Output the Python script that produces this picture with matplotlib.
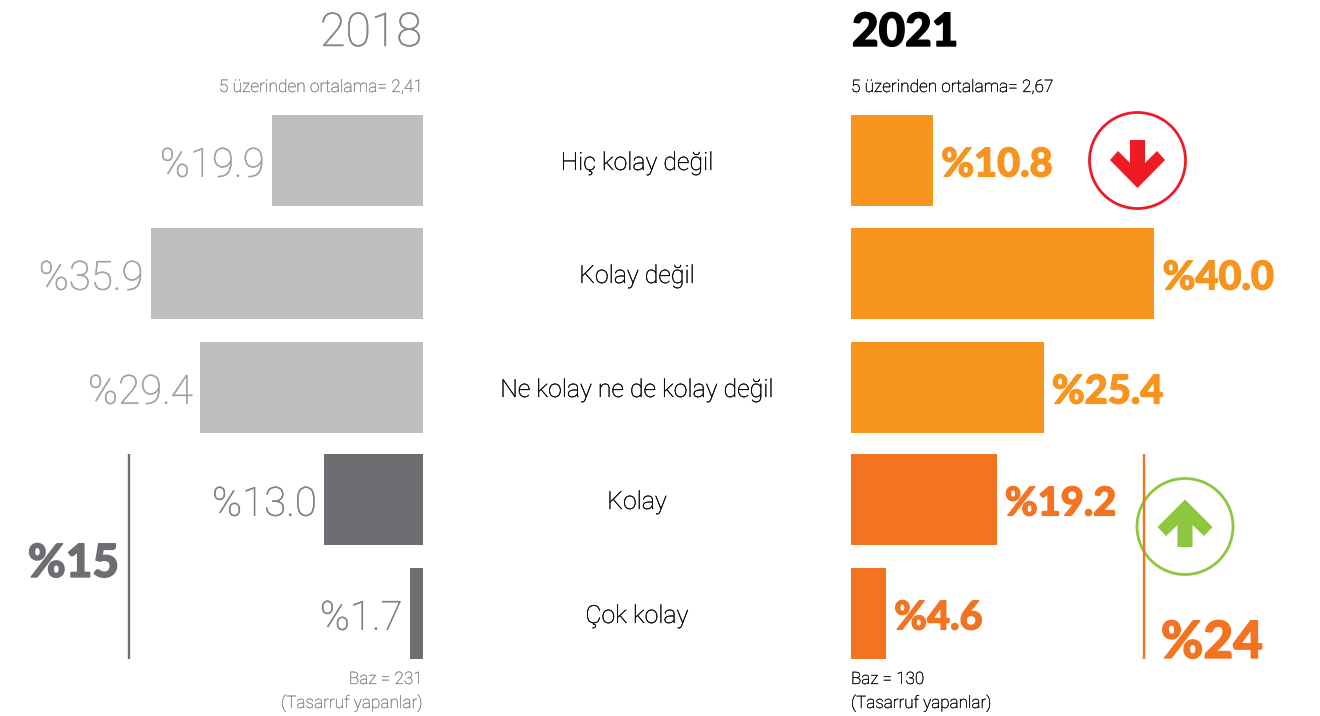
import matplotlib
matplotlib.use('Agg')
import matplotlib.pyplot as plt
import matplotlib.patheffects as pe
from matplotlib.patches import Circle, Polygon

# Data
categories = ['Hiç kolay değil', 'Kolay değil', 'Ne kolay ne de kolay değil', 'Kolay', 'Çok kolay']
values_2018 = [19.9, 35.9, 29.4, 13.0, 1.7]
values_2021 = [10.8, 40.0, 25.4, 19.2, 4.6]
labels_2018 = ['%19.9', '%35.9', '%29.4', '%13.0', '%1.7']
labels_2021 = ['%10.8', '%40.0', '%25.4', '%19.2', '%4.6']

colors_2018 = ['#bcbec0', '#bcbec0', '#bcbec0', '#6d6e71', '#6d6e71']
colors_2021 = ['#f7941d', '#f7941d', '#f7941d', '#f47321', '#f47321']
text_2018 = ['#a0a2a5', '#a0a2a5', '#a0a2a5', '#808285', '#808285']

W, H = 1320, 716
PX_PER_UNIT = 7.58
ROW_Y = [160.5, 273.5, 387.5, 499.5, 613.5]  # row centres, pixels from the top
BAR_H = 91

fig = plt.figure(figsize=(W / 100, H / 100), dpi=100)


def thicken(text, width):
    # the installed fonts are a bit thinner or lighter than the original face
    text.set_path_effects([pe.withStroke(linewidth=width, foreground=text.get_color())])


def make_axes(left_px, right_px):
    ax = fig.add_axes([left_px / W, 0, (right_px - left_px) / W, 1])
    ax.set_ylim(H, 0)
    ax.axis('off')
    return ax


ax_l = make_axes(0, 423)
ax_l.set_xlim(423 / PX_PER_UNIT, 0)
ax_r = make_axes(851, W)
ax_r.set_xlim(0, (W - 851) / PX_PER_UNIT)

ax_l.barh(ROW_Y, values_2018, height=BAR_H, color=colors_2018)
ax_r.barh(ROW_Y, values_2021, height=BAR_H, color=colors_2021)

for i, y in enumerate(ROW_Y):
    t = ax_l.annotate(labels_2018[i], (values_2018[i], y), xytext=(-5.5, -0.7), textcoords='offset points',
                      ha='right', va='center_baseline', fontsize=29, family='Roboto', weight='light', color=text_2018[i])
    thicken(t, 0.35)
    t = ax_r.annotate(labels_2021[i], (values_2021[i], y), xytext=(6, -0.7), textcoords='offset points',
                      ha='left', va='center_baseline', fontsize=28.6, family='Lato', weight='black', color=colors_2021[i])
    thicken(t, 0.9)

# overlay in pixel coordinates for the labels and decorations
deco = fig.add_axes([0, 0, 1, 1], facecolor='none')
deco.set_xlim(0, W)
deco.set_ylim(H, 0)
deco.axis('off')

for y, cat in zip(ROW_Y, categories):
    t = deco.text(637, y + 2.5, cat, ha='center', va='center', fontsize=17.9, family='Roboto', weight='light', color='#000000')
    thicken(t, 0.2)

t = deco.text(422, 46, '2018', ha='right', va='baseline', fontsize=33.5, family='Roboto', weight='light', color='#85878a')
thicken(t, 0.4)
t = deco.text(852, 46, '2021', ha='left', va='baseline', fontsize=33, family='Lato', weight='black', color='#000000')
thicken(t, 1.0)

small = dict(va='baseline', family='Roboto', weight='light')
for x, y, s, ha, size, col in [
    (423, 92, '5 üzerinden ortalama= 2,41', 'right', 12.5, '#85878a'),
    (851, 92, '5 üzerinden ortalama= 2,67', 'left', 12.4, '#000000'),
    (423, 684, 'Baz = 231', 'right', 12.4, '#85878a'),
    (423, 708, '(Tasarruf yapanlar)', 'right', 12.4, '#85878a'),
    (851, 684, 'Baz = 130', 'left', 12.3, '#000000'),
    (851, 708, '(Tasarruf yapanlar)', 'left', 12.3, '#000000'),
]:
    t = deco.text(x, y, s, ha=ha, fontsize=size, color=col, **small)
    thicken(t, 0.2)

# group brackets and totals
deco.plot([129, 129], [454, 659], color='#6d6e71', lw=1.7, solid_capstyle='butt')
deco.plot([1144, 1144], [454, 659], color='#f47321', lw=1.7, solid_capstyle='butt')
t = deco.text(119, 577, '%15', ha='right', va='baseline', fontsize=33, family='Lato', weight='black', color='#6d6e71')
thicken(t, 1.0)
t = deco.text(1263, 658, '%24', ha='right', va='baseline', fontsize=37, family='Lato', weight='black', color='#f47321')
thicken(t, 1.0)

# down arrow
deco.add_patch(Circle((1137.5, 160.5), 48, fc='white', ec='#ed1c24', lw=2))
deco.add_patch(Polygon([(1130, 140), (1145, 140), (1145, 163), (1157, 151), (1165, 160),
                        (1137.5, 188), (1110, 160), (1118, 151), (1130, 163)], fc='#ed1c24', ec='none'))
# up arrow
deco.add_patch(Circle((1185, 526.5), 48, fc='white', ec='#8dc63f', lw=2))
deco.add_patch(Polygon([(1177.5, 547), (1192.5, 547), (1192.5, 525), (1204, 536), (1212.5, 527),
                        (1185, 499.5), (1157.5, 527), (1166, 536), (1177.5, 525)], fc='#8dc63f', ec='none'))

fig.savefig('out.png', dpi=100)
